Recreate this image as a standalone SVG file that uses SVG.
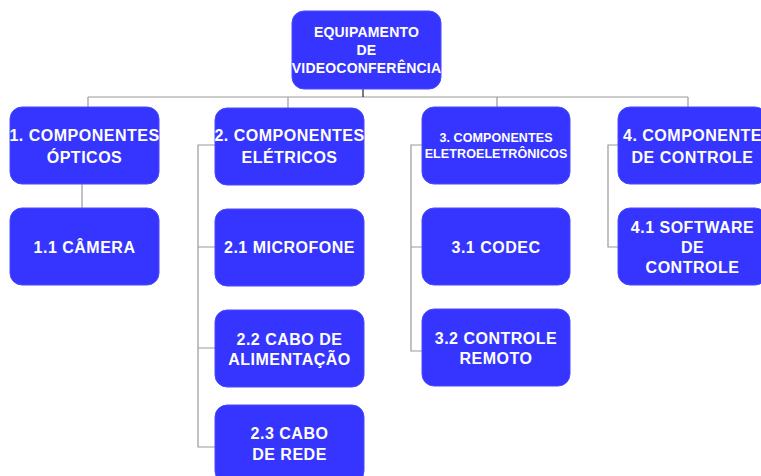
<svg xmlns="http://www.w3.org/2000/svg" width="761" height="476" viewBox="0 0 761 476">
<style>
.box{fill:#3535ff;stroke:#4a4aff;stroke-width:1}
.t{font-family:"Liberation Sans",Arial,sans-serif;font-weight:bold;fill:#ffffff;text-anchor:middle;font-size:16px;letter-spacing:0.5px}
.root{font-size:14px;letter-spacing:0.2px}
.small{font-size:12.5px;letter-spacing:0.1px}
.c{stroke:#999999;stroke-width:1.2;fill:none}
</style>
<rect width="761" height="476" fill="#ffffff"/>
<g id="connectors">
<path class="c" d="M88,97 H688"/>
<path d="M363,89 V97" stroke="#222222" stroke-width="1.2"/>
<path class="c" d="M88,97 V107 M288,97 V108 M497,97 V107 M688,97 V107"/>
<path class="c" d="M82,184 V208"/>
<path class="c" d="M215,145 H198 V447 H215 M198,247 H215 M198,348 H215"/>
<path class="c" d="M422,145 H411 V351 H422 M411,247 H422"/>
<path class="c" d="M618,145 H608 V247 H618"/>
</g>
<g id="root">
<rect class="box" x="292" y="11" width="149" height="78" rx="12"/>
<text class="t root" x="366.5" y="37">EQUIPAMENTO</text>
<text class="t root" x="366.5" y="55">DE</text>
<text class="t root" x="366.5" y="73">VIDEOCONFERÊNCIA</text>
</g>
<g id="n1">
<rect class="box" x="10" y="107" width="149" height="77" rx="12"/>
<text class="t" x="84.5" y="141">1. COMPONENTES</text>
<text class="t" x="84.5" y="163">ÓPTICOS</text>
</g>
<g id="n2">
<rect class="box" x="215" y="108" width="149" height="77" rx="12"/>
<text class="t" x="289.5" y="141">2. COMPONENTES</text>
<text class="t" x="289.5" y="163">ELÉTRICOS</text>
</g>
<g id="n3">
<rect class="box" x="422" y="107" width="148" height="77" rx="12"/>
<text class="t small" x="496" y="141.5">3. COMPONENTES</text>
<text class="t small" x="496" y="158">ELETROELETRÔNICOS</text>
</g>
<g id="n4">
<rect class="box" x="618" y="107" width="149" height="77" rx="12"/>
<text class="t" x="692.5" y="141">4. COMPONENTE</text>
<text class="t" x="692.5" y="163">DE CONTROLE</text>
</g>
<g id="n1_1">
<rect class="box" x="10" y="208" width="149" height="77" rx="12"/>
<text class="t" x="84.5" y="253">1.1 CÂMERA</text>
</g>
<g id="n2_1">
<rect class="box" x="215" y="209" width="149" height="77" rx="12"/>
<text class="t" x="289.5" y="253">2.1 MICROFONE</text>
</g>
<g id="n2_2">
<rect class="box" x="215" y="310" width="149" height="77" rx="12"/>
<text class="t" x="289.5" y="345">2.2 CABO DE</text>
<text class="t" x="289.5" y="365">ALIMENTAÇÃO</text>
</g>
<g id="n2_3">
<rect class="box" x="215" y="405" width="149" height="78" rx="12"/>
<text class="t" x="289.5" y="439">2.3 CABO</text>
<text class="t" x="289.5" y="460">DE REDE</text>
</g>
<g id="n3_1">
<rect class="box" x="422" y="208" width="148" height="77" rx="12"/>
<text class="t" x="496" y="253">3.1 CODEC</text>
</g>
<g id="n3_2">
<rect class="box" x="422" y="309" width="148" height="77" rx="12"/>
<text class="t" x="496" y="344">3.2 CONTROLE</text>
<text class="t" x="496" y="364">REMOTO</text>
</g>
<g id="n4_1">
<rect class="box" x="618" y="208" width="149" height="77" rx="12"/>
<text class="t" x="692.5" y="233">4.1 SOFTWARE</text>
<text class="t" x="692.5" y="253">DE</text>
<text class="t" x="692.5" y="273">CONTROLE</text>
</g>
</svg>
